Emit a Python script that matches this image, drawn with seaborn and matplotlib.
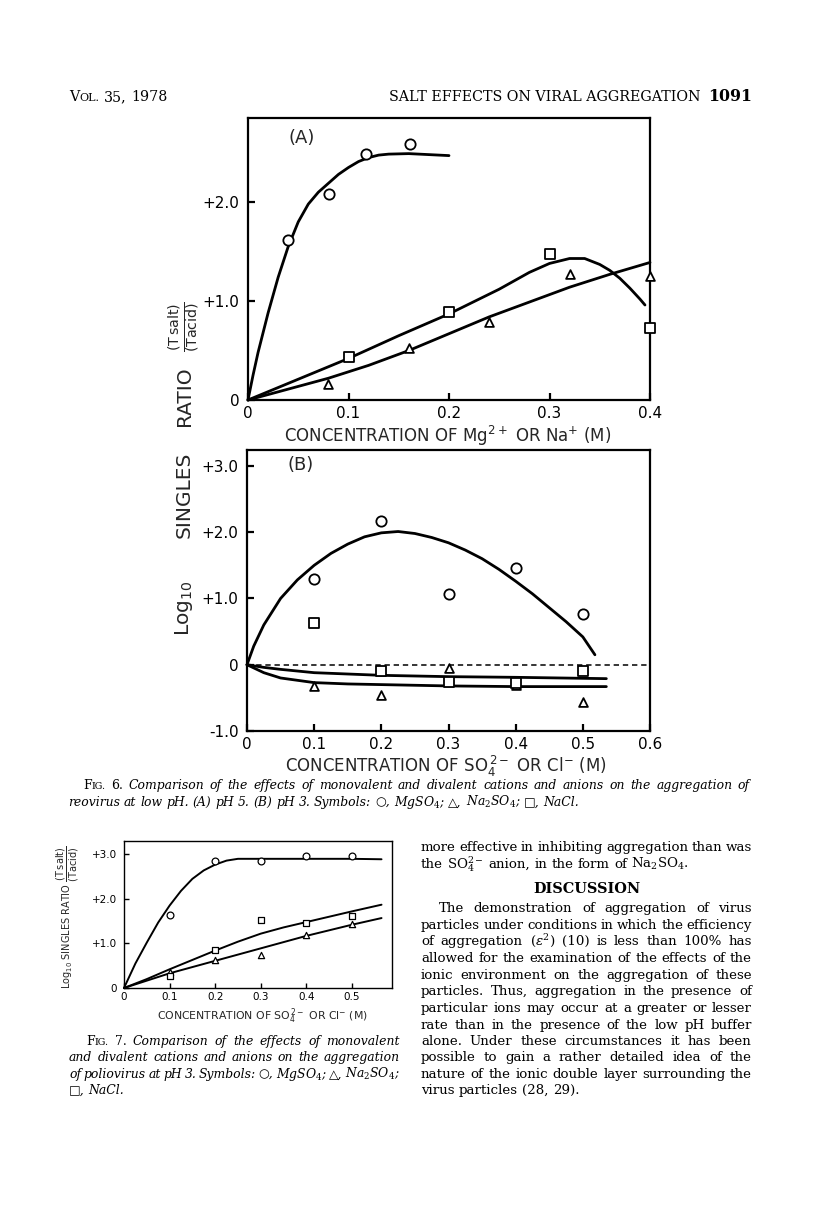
import matplotlib
matplotlib.use("Agg")
import matplotlib.pyplot as plt
import seaborn as sns

# ---------------- data (read from the page) ----------------
# Fig. 6A  (pH 5)
a_mg_x = [0.040, 0.081, 0.117, 0.161]
a_mg_y = [1.62, 2.08, 2.49, 2.59]
a_na2so4_x = [0.08, 0.16, 0.24, 0.32, 0.40]
a_na2so4_y = [0.16, 0.53, 0.79, 1.27, 1.25]
a_nacl_x = [0.10, 0.20, 0.30, 0.40]
a_nacl_y = [0.43, 0.89, 1.48, 0.73]
# hand-drawn curves, Fig. 6A
a_mg_cx = [0, 0.005, 0.01, 0.02, 0.03, 0.04, 0.05, 0.06, 0.07, 0.08, 0.09,
           0.10, 0.11, 0.12, 0.13, 0.14, 0.16, 0.18, 0.20]
a_mg_cy = [0, 0.25, 0.48, 0.88, 1.24, 1.55, 1.80, 1.98, 2.10, 2.19, 2.28,
           2.35, 2.41, 2.45, 2.475, 2.485, 2.49, 2.48, 2.47]
a_nacl_cx = [0, 0.05, 0.10, 0.15, 0.20, 0.25, 0.28, 0.30, 0.32, 0.335,
             0.35, 0.36, 0.37, 0.38, 0.39, 0.395]
a_nacl_cy = [0, 0.21, 0.42, 0.65, 0.87, 1.12, 1.29, 1.38, 1.43, 1.43,
             1.37, 1.31, 1.23, 1.13, 1.02, 0.96]
a_na2so4_cx = [0, 0.04, 0.08, 0.12, 0.16, 0.20, 0.24, 0.28, 0.32, 0.36, 0.40]
a_na2so4_cy = [0, 0.11, 0.22, 0.35, 0.50, 0.67, 0.84, 0.99, 1.14, 1.27, 1.39]

# Fig. 6B  (pH 3)
b_x = [0.1, 0.2, 0.3, 0.4, 0.5]
b_mg_y = [1.30, 2.17, 1.07, 1.46, 0.76]
b_nacl_y = [0.63, -0.09, -0.26, -0.27, -0.09]
b_na2so4_y = [-0.32, -0.46, -0.05, -0.30, -0.56]
b_mg_cx = [0, 0.01, 0.025, 0.05, 0.075, 0.10, 0.125, 0.15, 0.175, 0.20, 0.225,
           0.25, 0.275, 0.30, 0.325, 0.35, 0.375, 0.40, 0.425, 0.45, 0.475,
           0.50, 0.518]
b_mg_cy = [0, 0.28, 0.60, 1.00, 1.28, 1.50, 1.68, 1.82, 1.93, 1.99, 2.01,
           1.98, 1.92, 1.84, 1.73, 1.60, 1.44, 1.26, 1.07, 0.86, 0.65,
           0.42, 0.15]
b_low_cx = [0, 0.025, 0.05, 0.10, 0.15, 0.20, 0.30, 0.40, 0.50, 0.535]
b_up_cy = [0, -0.04, -0.07, -0.12, -0.14, -0.16, -0.18, -0.19, -0.205, -0.21]
b_low_cy = [0, -0.12, -0.20, -0.27, -0.29, -0.30, -0.32, -0.33, -0.33, -0.33]

# Fig. 7  (poliovirus, pH 3)
c_x = [0.1, 0.2, 0.3, 0.4, 0.5]
c_mg_y = [1.64, 2.85, 2.85, 2.96, 2.97]
c_nacl_y = [0.27, 0.86, 1.53, 1.46, 1.62]
c_na2so4_y = [0.36, 0.62, 0.75, 1.20, 1.44]
c_mg_cx = [0, 0.025, 0.05, 0.075, 0.10, 0.125, 0.15, 0.175, 0.20, 0.225,
           0.25, 0.30, 0.40, 0.50, 0.565]
c_mg_cy = [0, 0.55, 1.02, 1.47, 1.85, 2.18, 2.45, 2.64, 2.77, 2.86,
           2.90, 2.90, 2.90, 2.90, 2.89]
c_nacl_cx = [0, 0.05, 0.10, 0.15, 0.20, 0.25, 0.30, 0.35, 0.40, 0.45, 0.50, 0.565]
c_nacl_cy = [0, 0.20, 0.42, 0.63, 0.84, 1.04, 1.22, 1.36, 1.48, 1.60, 1.72, 1.87]
c_na2so4_cx = [0, 0.10, 0.20, 0.30, 0.40, 0.50, 0.565]
c_na2so4_cy = [0, 0.33, 0.61, 0.89, 1.17, 1.42, 1.57]

# tick labels
a_xticks = [0, 0.1, 0.2, 0.3, 0.4]
a_xlabels = ["0", "0.1", "0.2", "0.3", "0.4"]
a_yticks = [0, 1, 2]
a_ylabels = ["0", "+1.0", "+2.0"]
b_xticks = [0, 0.1, 0.2, 0.3, 0.4, 0.5, 0.6]
b_xlabels = ["0", "0.1", "0.2", "0.3", "0.4", "0.5", "0.6"]
b_yticks = [-1, 0, 1, 2, 3]
b_ylabels = ["-1.0", "0", "+1.0", "+2.0", "+3.0"]
c_xticks = [0, 0.1, 0.2, 0.3, 0.4, 0.5]
c_xlabels = ["0", "0.1", "0.2", "0.3", "0.4", "0.5"]
c_yticks = [0, 1, 2, 3]
c_ylabels = ["0", "+1.0", "+2.0", "+3.0"]

# ---------------- figure ----------------
sns.set_theme(style="white")
plt.rcParams["font.family"] = ["DejaVu Sans"]

W, H = 816, 1213
fig = plt.figure(figsize=(W / 100, H / 100), dpi=100)
fig.patch.set_facecolor("white")


def ax_px(l, t, r, b):
    return fig.add_axes([l / W, 1 - b / H, (r - l) / W, (b - t) / H])


def fy(y):
    return 1 - y / H


def style_ax(ax, lw, labelsize, tl, xpad, ypad):
    ax.set_facecolor("white")
    for s in ax.spines.values():
        s.set_visible(True)
        s.set_color("black")
        s.set_linewidth(lw)
    ax.grid(False)
    ax.tick_params(axis="both", which="both", direction="in", length=tl,
                   width=lw, colors="black", labelsize=labelsize,
                   bottom=True, left=True, top=False, right=False)
    ax.tick_params(axis="x", pad=xpad)
    ax.tick_params(axis="y", pad=ypad)
    ax.set_xlabel("")
    ax.set_ylabel("")


def curve(ax, x, y, lw):
    sns.lineplot(x=x, y=y, ax=ax, color="black", linewidth=lw, sort=False,
                 estimator=None, clip_on=False)


def pts(ax, x, y, marker, s, lw):
    sns.scatterplot(x=x, y=y, ax=ax, marker=marker, s=s, color="white",
                    edgecolor="black", linewidth=lw, zorder=5, clip_on=False)


CURVE_LW = 2.0
MK_LW = 1.3

# ---- Fig 6A
axA = ax_px(248, 118, 650, 400)
curve(axA, a_mg_cx, a_mg_cy, CURVE_LW)
curve(axA, a_nacl_cx, a_nacl_cy, CURVE_LW)
curve(axA, a_na2so4_cx, a_na2so4_cy, CURVE_LW)
pts(axA, a_mg_x, a_mg_y, "o", 55, MK_LW)
pts(axA, a_na2so4_x, a_na2so4_y, "^", 40, MK_LW)
pts(axA, a_nacl_x, a_nacl_y, "s", 45, MK_LW)
axA.set_xlim(0, 0.4)
axA.set_ylim(0, 2.85)
axA.set_xticks(a_xticks)
axA.set_xticklabels(a_xlabels)
axA.set_yticks(a_yticks)
axA.set_yticklabels(a_ylabels)
style_ax(axA, 1.6, 11, 5, 4, 6)
axA.text(0.1, 0.93, "(A)", transform=axA.transAxes, fontsize=13,
         ha="left", va="center")

# ---- Fig 6B
axB = ax_px(247, 450, 650, 731)
axB.axhline(0, color="black", lw=1.1, ls=(0, (3.5, 2.5)))
curve(axB, b_mg_cx, b_mg_cy, CURVE_LW)
curve(axB, b_low_cx, b_up_cy, CURVE_LW)
curve(axB, b_low_cx, b_low_cy, CURVE_LW)
pts(axB, b_x, b_mg_y, "o", 55, MK_LW)
pts(axB, b_x, b_na2so4_y, "^", 40, MK_LW)
pts(axB, b_x, b_nacl_y, "s", 45, MK_LW)
axB.set_xlim(0, 0.6)
axB.set_ylim(-1.0, 3.24)
axB.set_xticks(b_xticks)
axB.set_xticklabels(b_xlabels)
axB.set_yticks(b_yticks)
axB.set_yticklabels(b_ylabels)
style_ax(axB, 1.6, 11, 5, 4, 6)
axB.text(0.1, 0.946, "(B)", transform=axB.transAxes, fontsize=13,
         ha="left", va="center")

# shared y label for Fig 6 (widely spaced words, as printed)
ylab_parts = [(r"Log$_{10}$", 608, 14.5), ("SINGLES", 495, 14.5),
              ("RATIO", 396, 14.5),
              (r"$\frac{(\mathrm{T\,salt})}{(\mathrm{Tacid})}$", 327, 14.5)]
for s, yc, fs in ylab_parts:
    fig.text(184 / W, fy(yc), s, rotation=90, ha="center", va="center",
             fontsize=fs, math_fontfamily="dejavusans")
fig.text(448 / W, fy(436), r"CONCENTRATION OF Mg$^{2+}$ OR Na$^{+}$ (M)",
         ha="center", va="center", fontsize=12, math_fontfamily="dejavusans")
fig.text(446 / W, fy(766), r"CONCENTRATION OF SO$_4^{\,2-}$ OR Cl$^{-}$ (M)",
         ha="center", va="center", fontsize=12, math_fontfamily="dejavusans")

# ---- Fig 7
axC = ax_px(124, 841, 392, 988)
curve(axC, c_mg_cx, c_mg_cy, 1.4)
curve(axC, c_nacl_cx, c_nacl_cy, 1.4)
curve(axC, c_na2so4_cx, c_na2so4_cy, 1.4)
pts(axC, c_x, c_mg_y, "o", 24, 0.9)
pts(axC, c_x, c_na2so4_y, "^", 20, 0.9)
pts(axC, c_x, c_nacl_y, "s", 20, 0.9)
axC.set_xlim(0, 0.588)
axC.set_ylim(0, 3.3)
axC.set_xticks(c_xticks)
axC.set_xticklabels(c_xlabels)
axC.set_yticks(c_yticks)
axC.set_yticklabels(c_ylabels)
style_ax(axC, 1.0, 7.5, 3.5, 3, 5)
ylab7 = (r"Log$_{10}$ SINGLES RATIO "
         r"$\dfrac{(\mathrm{T\,salt})}{(\mathrm{Tacid})}$")
fig.text(68 / W, fy(917), ylab7, rotation=90, ha="center", va="center",
         fontsize=7.0, math_fontfamily="dejavusans")
fig.text(262 / W, fy(1016), r"CONCENTRATION OF SO$_4^{\,2-}$ OR Cl$^{-}$ (M)",
         ha="center", va="center", fontsize=7.8, math_fontfamily="dejavusans")

# ---------------- page text ----------------
renderer = fig.canvas.get_renderer()
SERIF = ["DejaVu Serif", "DejaVu Sans"]


def measure(s, props):
    t = fig.text(0, 0, s, **props)
    w = t.get_window_extent(renderer).width
    t.remove()
    return w


def make_words(line, props):
    out = []
    for w in line.split(" "):
        if w.startswith("^SC"):
            w = w[3:]
            p1 = dict(props, fontstyle="normal")
            p2 = dict(props, fontstyle="normal", fontsize=props["fontsize"] * 0.78)
            out.append([(w[0], p1), (w[1:], p2)])
        elif w.startswith("^R"):
            out.append([(w[2:], dict(props, fontstyle="normal"))])
        else:
            out.append([(w, props)])
    return out


def natural(line, props, mingap=0.22):
    words = make_words(line, props)
    widths = [sum(measure(t, p) for t, p in w) for w in words]
    return sum(widths) + mingap * props["fontsize"] * 100 / 72 * (len(words) - 1)


def fit_size(lines, props, maxsize):
    base = 10.0
    p = dict(props, fontsize=base)
    f = min((x1 - x0) / natural(ln, p) for ln, x0, x1 in lines)
    return min(base * f, maxsize)


def place_line(line, props, x0, x1, base, justify=True):
    words = make_words(line, props)
    widths = [sum(measure(t, p) for t, p in w) for w in words]
    if justify and len(words) > 1:
        gap = (x1 - x0 - sum(widths)) / (len(words) - 1)
    else:
        gap = measure("a a", props) - 2 * measure("a", props)
    x = x0
    for w, wd in zip(words, widths):
        xx = x
        for t, p in w:
            fig.text(xx / W, fy(base), t, ha="left", va="baseline", **p)
            xx += measure(t, p)
        x += wd + gap


cap = dict(family=SERIF, math_fontfamily="dejavuserif", fontstyle="italic",
           color="black")
body = dict(family=SERIF, math_fontfamily="dejavuserif", color="black")
head = dict(family=SERIF, math_fontfamily="dejavuserif", color="black")

# running head
head_size = fit_size([("SALT EFFECTS ON VIRAL AGGREGATION", 389, 694)], head, 11)
head = dict(head, fontsize=head_size)
place_line("^SCVOL. 35, 1978", head, 69, 215, 101, justify=False)
fig.text(389 / W, fy(101), "SALT EFFECTS ON VIRAL AGGREGATION", ha="left",
         va="baseline", **head)
fig.text(752 / W, fy(101), "1091", ha="right", va="baseline",
         **dict(head, fontsize=head_size * 1.12, fontweight="bold"))

# Fig. 6 caption
cap6_l1 = ("^SCFIG. ^R6. Comparison of the effects of monovalent and divalent "
           "cations and anions on the aggregation of")
cap6_l2 = ("reovirus at low pH. (A) pH 5. (B) pH 3. Symbols: \u25CB, "
           "MgSO$_4$; \u25B3, Na$_2$SO$_4$; \u25A1, NaCl.")

# Fig. 7 caption
cap7 = ["^SCFIG. ^R7. Comparison of the effects of monovalent",
        "and divalent cations and anions on the aggregation",
        "of poliovirus at pH 3. Symbols: \u25CB, MgSO$_4$; \u25B3, Na$_2$SO$_4$;",
        "\u25A1, NaCl."]
cap7_x0 = [86, 69, 69, 69]
cap7_base = [1045, 1061, 1078, 1094]

cap_size = fit_size([(cap6_l1, 83, 750)] +
                    [(cap7[i], cap7_x0[i], 400) for i in range(3)], cap, 11)
cap = dict(cap, fontsize=cap_size)
place_line(cap6_l1, cap, 83, 750, 789)
place_line(cap6_l2, cap, 68, 750, 806, justify=False)
for i, (ln, bs) in enumerate(zip(cap7, cap7_base)):
    place_line(ln, cap, cap7_x0[i], 400, bs, justify=(i < 3))

# right column body text
col_lines = [
    ("more effective in inhibiting aggregation than was", 421, True),
    ("the SO$_4^{2-}$ anion, in the form of Na$_2$SO$_4$.", 421, False),
    None,
    ("The demonstration of aggregation of virus", 439, True),
    ("particles under conditions in which the efficiency", 421, True),
    ("of aggregation ($\\epsilon^2$) (10) is less than 100% has", 421, True),
    ("allowed for the examination of the effects of the", 421, True),
    ("ionic environment on the aggregation of these", 421, True),
    ("particles. Thus, aggregation in the presence of", 421, True),
    ("particular ions may occur at a greater or lesser", 421, True),
    ("rate than in the presence of the low pH buffer", 421, True),
    ("alone. Under these circumstances it has been", 421, True),
    ("possible to gain a rather detailed idea of the", 421, True),
    ("nature of the ionic double layer surrounding the", 421, True),
    ("virus particles (28, 29).", 421, False),
]
col_base = [851, 868, 893, 912, 929, 945, 962, 979, 995, 1012, 1029, 1045,
            1061, 1078, 1094]
body_size = fit_size([(it[0], it[1], 752) for it in col_lines
                      if it is not None and it[2]], body, 11)
body = dict(body, fontsize=body_size)
for item, bs in zip(col_lines, col_base):
    if item is None:
        fig.text(587 / W, fy(bs), "DISCUSSION", ha="center", va="baseline",
                 **dict(body, fontsize=body_size * 1.08, fontweight="bold"))
        continue
    txt, x0, just = item
    place_line(txt, body, x0, 752, bs, justify=just)

fig.savefig("out.png", dpi=100, facecolor="white")
